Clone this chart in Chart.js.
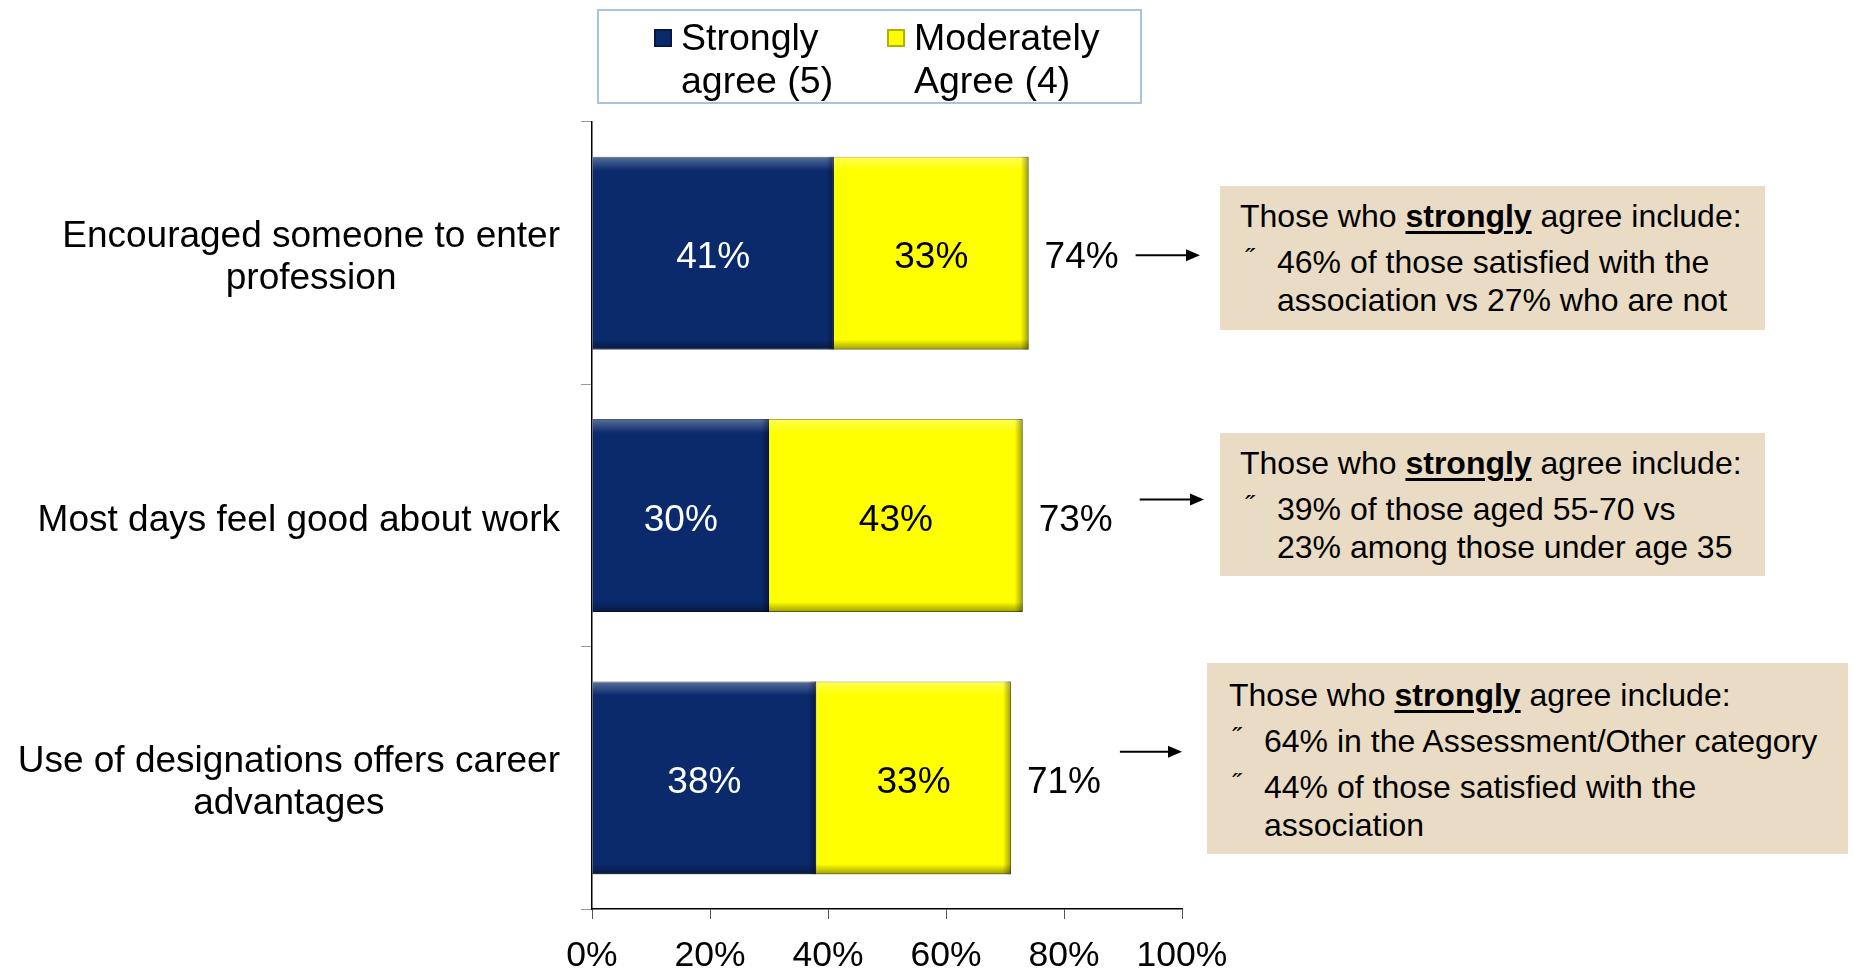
<!DOCTYPE html>
<html>
<head>
<meta charset="utf-8">
<script src="https://cdn.jsdelivr.net/npm/chart.js@4.4.1/dist/chart.umd.min.js"></script>
<style>
  body { margin: 0; background: #fff; font-family: "Liberation Sans", Arial, sans-serif; }
  #wrap { position: relative; width: 1854px; height: 969px; }
  #chart { position: absolute; left: 0; top: 0; }
  .legend {
    position: absolute; left: 597px; top: 9px; width: 545px; height: 95px;
    border: 2px solid #a9c3dd; box-sizing: border-box;
    font-size: 37.5px; line-height: 43px; color: #000;
  }
  .legend .item { position: absolute; top: 5px; }
  .legend .sw { position: absolute; top: 18px; width: 18px; height: 18px; box-sizing: border-box; }
  .note {
    position: absolute; background: #eadcc4; box-sizing: border-box;
    font-size: 32px; line-height: 38px; color: #000;
  }
  .note .head { margin-bottom: 8px; }
  .note .head u { text-decoration-thickness: 3px; text-underline-offset: 4px; }
  .note .it { position: relative; margin-bottom: 8px; }
  .note .bul { position: absolute; left: -32px; top: -4px; font-size: 26px; }
</style>
</head>
<body>
<div id="wrap">
  <canvas id="chart" width="1854" height="969"></canvas>

  <div class="legend">
    <div class="sw" style="left:55px;background:#0a2a6c;border:2px solid #06184a;"></div>
    <div class="item" style="left:82px;">Strongly<br>agree (5)</div>
    <div class="sw" style="left:288px;background:#ffff00;border:2px solid #b5b000;"></div>
    <div class="item" style="left:315px;">Moderately<br>Agree (4)</div>
  </div>

  <div class="note" style="left:1220px;top:186px;width:545px;height:144px;padding:11px 0 0 20px;">
    <div class="head">Those who <b><u>strongly</u></b> agree include:</div>
    <div class="it" style="margin-left:37px;"><span class="bul">˝</span>46% of those satisfied with the<br>association vs 27% who are not</div>
  </div>

  <div class="note" style="left:1220px;top:433px;width:545px;height:143px;padding:11px 0 0 20px;">
    <div class="head">Those who <b><u>strongly</u></b> agree include:</div>
    <div class="it" style="margin-left:37px;"><span class="bul">˝</span>39% of those aged 55-70 vs<br>23% among those under age 35</div>
  </div>

  <div class="note" style="left:1207px;top:663px;width:641px;height:191px;padding:13px 0 0 22px;">
    <div class="head">Those who <b><u>strongly</u></b> agree include:</div>
    <div class="it" style="margin-left:35px;"><span class="bul">˝</span>64% in the Assessment/Other category</div>
    <div class="it" style="margin-left:35px;"><span class="bul">˝</span>44% of those satisfied with the<br>association</div>
  </div>
</div>

<script>
const categories = [
  ["Encouraged someone to enter", "profession"],
  ["Most days feel good about work"],
  ["Use of designations offers career", "advantages"]
];
const stronglyAgree = [41, 30, 38];
const moderatelyAgree = [33, 43, 33];
const totals = [74, 73, 71];
const xTicks = [0, 20, 40, 60, 80, 100];

const navy = "#0a2a6c";
const yellow = "#ffff00";

// arrows: start gap after the total, end x (just left of note box), y shift from bar centre
const arrowStart = [107, 117, 109];
const arrowEnds = [1200, 1204, 1182];
const arrowShift = [2, -16, -26];

function bevel(ctx, bar) {
  const left = Math.min(bar.x, bar.base);
  const right = Math.max(bar.x, bar.base);
  const top = bar.y - bar.height / 2;
  const bottom = bar.y + bar.height / 2;
  const w = right - left;

  let g = ctx.createLinearGradient(0, top, 0, top + 14);
  g.addColorStop(0, "rgba(255,255,255,0.32)");
  g.addColorStop(1, "rgba(255,255,255,0)");
  ctx.fillStyle = g;
  ctx.fillRect(left, top, w, 14);

  g = ctx.createLinearGradient(0, bottom - 10, 0, bottom);
  g.addColorStop(0, "rgba(0,0,0,0)");
  g.addColorStop(1, "rgba(0,0,0,0.38)");
  ctx.fillStyle = g;
  ctx.fillRect(left, bottom - 10, w, 10);

  g = ctx.createLinearGradient(right - 8, 0, right, 0);
  g.addColorStop(0, "rgba(0,0,0,0)");
  g.addColorStop(1, "rgba(0,0,0,0.38)");
  ctx.fillStyle = g;
  ctx.fillRect(right - 8, top, 8, bottom - top);
}

const extrasPlugin = {
  id: "extras",
  afterDatasetsDraw(chart) {
    const ctx = chart.ctx;
    const xScale = chart.scales.x;
    const yScale = chart.scales.y;
    ctx.save();

    // bevel look on the bars
    chart.data.datasets.forEach((ds, i) => {
      chart.getDatasetMeta(i).data.forEach(bar => bevel(ctx, bar));
    });

    // value labels inside the segments
    ctx.font = "37px 'Liberation Sans', Arial, sans-serif";
    ctx.textAlign = "center";
    ctx.textBaseline = "middle";
    chart.data.datasets.forEach((ds, i) => {
      chart.getDatasetMeta(i).data.forEach((bar, j) => {
        ctx.fillStyle = i === 0 ? "#ffffff" : "#000000";
        ctx.fillText(ds.data[j] + "%", (bar.x + bar.base) / 2, bar.y + 5);
      });
    });

    // totals + arrows
    totals.forEach((t, j) => {
      const y = yScale.getPixelForValue(j);
      const x = xScale.getPixelForValue(t);
      ctx.fillStyle = "#000";
      ctx.textAlign = "left";
      ctx.fillText(t + "%", x + 16, y + 5);

      const ay = y + arrowShift[j];
      const x0 = x + arrowStart[j];
      const x1 = arrowEnds[j];
      ctx.strokeStyle = "#000";
      ctx.lineWidth = 2;
      ctx.beginPath();
      ctx.moveTo(x0, ay);
      ctx.lineTo(x1 - 12, ay);
      ctx.stroke();
      ctx.beginPath();
      ctx.moveTo(x1, ay);
      ctx.lineTo(x1 - 14, ay - 6);
      ctx.lineTo(x1 - 14, ay + 6);
      ctx.closePath();
      ctx.fill();
    });

    // category labels: block right-aligned, lines centred
    ctx.font = "37px 'Liberation Sans', Arial, sans-serif";
    ctx.textAlign = "center";
    ctx.fillStyle = "#000";
    const rightEdge = 560;
    const lh = 42;
    categories.forEach((lines, j) => {
      const y = yScale.getPixelForValue(j) + 5;
      const maxW = Math.max(...lines.map(l => ctx.measureText(l).width));
      const cx = rightEdge - maxW / 2;
      const y0 = y - (lines.length - 1) * lh / 2;
      lines.forEach((l, k) => ctx.fillText(l, cx, y0 + k * lh));
    });

    ctx.restore();
  }
};

new Chart(document.getElementById("chart"), {
  type: "bar",
  data: {
    labels: categories.map(c => c.join(" ")),
    datasets: [
      {
        label: "Strongly agree (5)",
        data: stronglyAgree,
        backgroundColor: navy,
        borderColor: "#04163f",
        borderWidth: 1,
        barPercentage: 0.735,
        categoryPercentage: 1
      },
      {
        label: "Moderately Agree (4)",
        data: moderatelyAgree,
        backgroundColor: yellow,
        borderColor: "#8c8a00",
        borderWidth: 1,
        barPercentage: 0.735,
        categoryPercentage: 1
      }
    ]
  },
  options: {
    indexAxis: "y",
    responsive: false,
    animation: false,
    layout: { padding: { left: 0, right: 672, top: 122, bottom: 0 } },
    plugins: {
      legend: { display: false },
      tooltip: { enabled: false }
    },
    scales: {
      x: {
        stacked: true,
        min: 0,
        max: 100,
        afterBuildTicks: scale => {
          scale.ticks = xTicks.map(v => ({ value: v }));
        },
        afterFit: scale => { scale.height = 60; },
        ticks: {
          callback: v => v + "%",
          color: "#000",
          font: { size: 35.5, family: "'Liberation Sans', Arial, sans-serif" },
          padding: 16,
          maxRotation: 0
        },
        grid: {
          drawOnChartArea: false,
          drawTicks: true,
          tickLength: 10,
          color: "#555"
        },
        border: { color: "#000", width: 1.5 }
      },
      y: {
        stacked: true,
        afterFit: scale => { scale.width = 592; },
        ticks: { display: false },
        grid: {
          offset: true,
          drawOnChartArea: false,
          drawTicks: true,
          tickLength: 11,
          color: "#9a9a9a"
        },
        border: { color: "#000", width: 1.5 }
      }
    }
  },
  plugins: [extrasPlugin]
});
</script>
</body>
</html>
